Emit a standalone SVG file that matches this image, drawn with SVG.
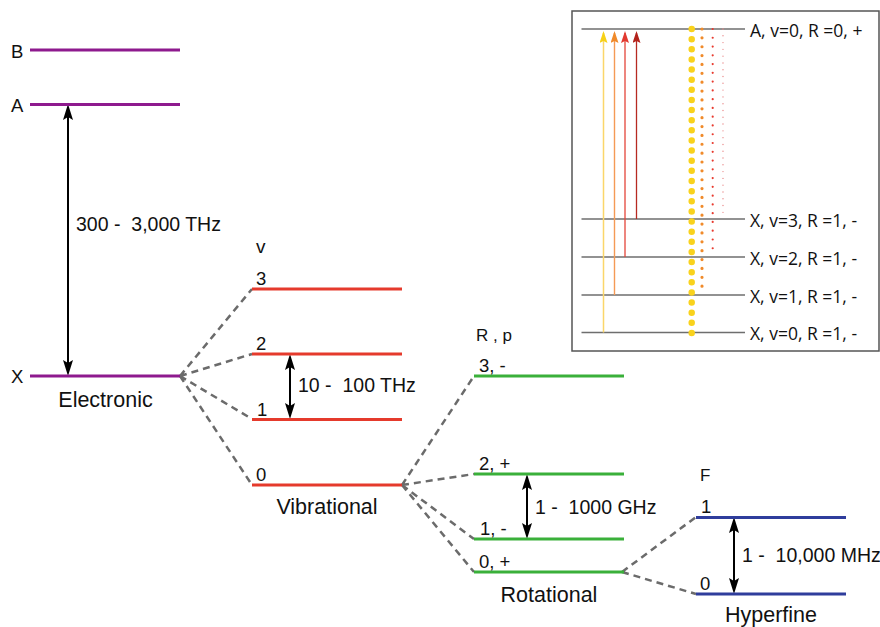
<svg xmlns="http://www.w3.org/2000/svg" width="880" height="627" viewBox="0 0 880 627">
<style>
text{font-family:"Liberation Sans",Arial,sans-serif;fill:#111}
.lvl{font-size:18.5px}
.hdr{font-size:17px}
.ttl{font-size:21.5px;text-anchor:middle}
.rng{font-size:19.5px}
.el{stroke:#8e1a8e;stroke-width:3}
.vib{stroke:#e53a2c;stroke-width:3}
.rot{stroke:#3ab03a;stroke-width:3}
.hf{stroke:#2f3d9c;stroke-width:3}
.dash{stroke:#6b6b6b;stroke-width:2.5;stroke-dasharray:7 5;fill:none}
.darr{stroke:#000;stroke-width:2;marker-start:url(#ah);marker-end:url(#ah)}
.ins{stroke:#6e6e6e;stroke-width:1.3}
.itx{font-family:"Open Sans","Liberation Sans",sans-serif;font-size:17.5px}
</style>
<defs>
<marker id="ah" viewBox="0 0 16 10" refX="12" refY="5" markerWidth="16" markerHeight="10" markerUnits="userSpaceOnUse" orient="auto-start-reverse">
<path d="M0,0 L16,5 L0,10 L3,5 z" fill="#000"/>
</marker>
<marker id="ay" viewBox="0 0 12 8" refX="10" refY="4" markerWidth="12" markerHeight="8" markerUnits="userSpaceOnUse" orient="auto">
<path d="M0,0 L12,4 L0,8 L2,4 z" fill="#f7d117"/>
</marker>
<marker id="ao" viewBox="0 0 12 8" refX="10" refY="4" markerWidth="12" markerHeight="8" markerUnits="userSpaceOnUse" orient="auto">
<path d="M0,0 L12,4 L0,8 L2,4 z" fill="#f08a2a"/>
</marker>
<marker id="ar" viewBox="0 0 12 8" refX="10" refY="4" markerWidth="12" markerHeight="8" markerUnits="userSpaceOnUse" orient="auto">
<path d="M0,0 L12,4 L0,8 L2,4 z" fill="#e23a30"/>
</marker>
<marker id="ad" viewBox="0 0 12 8" refX="10" refY="4" markerWidth="12" markerHeight="8" markerUnits="userSpaceOnUse" orient="auto">
<path d="M0,0 L12,4 L0,8 L2,4 z" fill="#b3221b"/>
</marker>
</defs>
<rect width="880" height="627" fill="#fff"/>

<g id="connectors">
<path class="dash" d="M180,376 L252,289 M180,376 L252,354 M180,376 L252,419 M180,376 L252,485"/>
<path class="dash" d="M402,485 L474,376 M402,485 L474,474 M402,485 L474,539 M402,485 L474,572"/>
<path class="dash" d="M622,572 L696,517 M622,572 L696,594"/>
<line class="darr" x1="68" y1="108" x2="68" y2="372"/>
<line class="darr" x1="290" y1="358" x2="290" y2="415"/>
<line class="darr" x1="527" y1="478" x2="527" y2="535"/>
<line class="darr" x1="734" y1="521" x2="734" y2="590"/>
</g>

<g id="electronic">
<line class="el" x1="30" y1="50" x2="180" y2="50"/>
<line class="el" x1="30" y1="104.5" x2="180" y2="104.5"/>
<line class="el" x1="30" y1="376" x2="180" y2="376"/>
<text class="lvl" x="11" y="57.5">B</text>
<text class="lvl" x="11" y="111.5">A</text>
<text class="lvl" x="11" y="383">X</text>
<text class="rng" x="76" y="230.5" xml:space="preserve">300 -  3,000 THz</text>
<text class="ttl" x="105.5" y="406.5">Electronic</text>
</g>

<g id="vibrational">
<line class="vib" x1="252" y1="289" x2="402" y2="289"/>
<line class="vib" x1="252" y1="354" x2="402" y2="354"/>
<line class="vib" x1="252" y1="419.5" x2="402" y2="419.5"/>
<line class="vib" x1="252" y1="485" x2="402" y2="485"/>
<text class="hdr" x="256" y="253" style="font-size:19px">v</text>
<text class="lvl" x="256" y="285">3</text>
<text class="lvl" x="256" y="350">2</text>
<text class="lvl" x="257" y="415.5">1</text>
<text class="lvl" x="256" y="481">0</text>
<text class="rng" x="298" y="392" xml:space="preserve">10 -  100 THz</text>
<text class="ttl" x="327" y="514">Vibrational</text>
</g>

<g id="rotational">
<line class="rot" x1="474" y1="376" x2="624" y2="376"/>
<line class="rot" x1="474" y1="474" x2="624" y2="474"/>
<line class="rot" x1="474" y1="539" x2="624" y2="539"/>
<line class="rot" x1="474" y1="572" x2="624" y2="572"/>
<text class="hdr" x="476" y="340.5">R , p</text>
<text class="lvl" x="479" y="371.5">3, -</text>
<text class="lvl" x="479" y="469.5">2, +</text>
<text class="lvl" x="480" y="534.5">1, -</text>
<text class="lvl" x="479" y="567.5">0, +</text>
<text class="rng" x="535" y="514" xml:space="preserve">1 -  1000 GHz</text>
<text class="ttl" x="549" y="601.5">Rotational</text>
</g>

<g id="hyperfine">
<line class="hf" x1="696" y1="517.5" x2="846" y2="517.5"/>
<line class="hf" x1="696" y1="594" x2="846" y2="594"/>
<text class="hdr" x="700" y="480.5">F</text>
<text class="lvl" x="701" y="513">1</text>
<text class="lvl" x="700" y="589.5">0</text>
<text class="rng" x="742" y="561.5" xml:space="preserve">1 -  10,000 MHz</text>
<text class="ttl" x="771" y="621.5">Hyperfine</text>
</g>

<g id="inset">
<rect x="572" y="11" width="307" height="340" fill="#fff" stroke="#555" stroke-width="1.5"/>
<line class="ins" x1="581.5" y1="29" x2="745" y2="29"/>
<line class="ins" x1="581.5" y1="219" x2="745" y2="219"/>
<line class="ins" x1="581.5" y1="257" x2="745" y2="257"/>
<line class="ins" x1="581.5" y1="295" x2="745" y2="295"/>
<line class="ins" x1="581.5" y1="332.5" x2="745" y2="332.5"/>
<line x1="603.5" y1="332.5" x2="603.5" y2="33" stroke="#fbd66a" stroke-width="1.5" marker-end="url(#ay)"/>
<line x1="614.5" y1="295" x2="614.5" y2="33" stroke="#f59a55" stroke-width="1.4" marker-end="url(#ao)"/>
<line x1="625" y1="257" x2="625" y2="33" stroke="#e4453a" stroke-width="1.3" marker-end="url(#ar)"/>
<line x1="636.5" y1="219" x2="636.5" y2="33" stroke="#b72a22" stroke-width="1.3" marker-end="url(#ad)"/>
<line x1="691.7" y1="29" x2="691.7" y2="333" stroke="#f9d21c" stroke-width="6.5" stroke-linecap="round" stroke-dasharray="0 10.133"/>
<line x1="702" y1="29" x2="702" y2="295" stroke="#f08a2a" stroke-width="3.2" stroke-linecap="round" stroke-dasharray="0 8.867"/>
<line x1="712.7" y1="29" x2="712.7" y2="257" stroke="#e83a2e" stroke-width="2.2" stroke-linecap="round" stroke-dasharray="0 8.77"/>
<line x1="723" y1="29" x2="723" y2="219" stroke="#e98a8a" stroke-width="1.4" stroke-linecap="round" stroke-dasharray="0 6.79"/>
<text class="itx" x="750" y="36.5">A, v=0, R =0, +</text>
<text class="itx" x="750" y="226.5">X, v=3, R =1, -</text>
<text class="itx" x="750" y="264.5">X, v=2, R =1, -</text>
<text class="itx" x="750" y="302.5">X, v=1, R =1, -</text>
<text class="itx" x="750" y="340">X, v=0, R =1, -</text>
</g>
</svg>
